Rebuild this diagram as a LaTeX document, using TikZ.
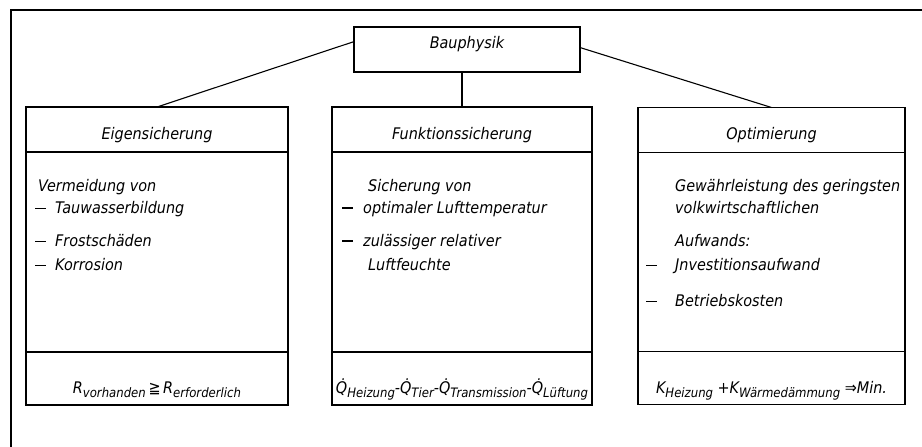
\documentclass[tikz,border=0pt]{standalone}
\usepackage{fontspec}
\setmainfont{DejaVu Sans Condensed}
\usetikzlibrary{positioning}
\newcommand\idx[1]{\raisebox{-4pt}{\fontsize{13}{13}\selectfont #1}}
\newcommand\strich[2][0.8pt]{\rule[4.5pt]{11pt}{#1}\hspace{#2}}
\tikzset{
  sect/.style={draw, line width=1.3pt, inner sep=0pt, outer sep=0pt},
  lbl/.style={anchor=base west, inner sep=0pt, font=\fontsize{16}{18}\selectfont\itshape},
  mid/.style={lbl, anchor=base},
  verb/.style={line width=1.1pt}
}
\begin{document}
\begin{tikzpicture}[x=1pt, y=-1pt]
		%%%%% START %%%%%
		\useasboundingbox (0,0) rectangle (922,447);
		\draw[line width=1.3pt] (11,447) -- (11,10) -- (922,10);
		
		\node[sect, minimum width=226pt, minimum height=45pt] (bau) at (467,49.5) {};
		\node[mid] (bautext) at (467,48) {Bauphysik};
		
		\node[sect, minimum width=262pt, minimum height=45pt] (eigenkopf) at (157,129.5) {};
		\node[sect, minimum width=262pt, minimum height=200pt, below=0pt of eigenkopf] (eigentext) {};
		\node[sect, minimum width=262pt, minimum height=53pt, below=0pt of eigentext] (eigenformel) {};
		
		\node[sect, minimum width=260pt, minimum height=45pt] (funkkopf) at (462,129.5) {};
		\node[sect, minimum width=260pt, minimum height=200pt, below=0pt of funkkopf] (funktext) {};
		\node[sect, minimum width=260pt, minimum height=53pt, below=0pt of funktext] (funkformel) {};
		
		\node[sect, minimum width=267pt, minimum height=45pt] (optkopf) at (771.5,130) {};
		\node[sect, minimum width=267pt, minimum height=199pt, below=0pt of optkopf] (opttext) {};
		\node[sect, minimum width=267pt, minimum height=53pt, below=0pt of opttext] (optformel) {};
		
		\draw[verb] (bau.176.7) -- (eigenkopf.north);
		\draw[verb] (funkkopf.north |- bau.south) -- (funkkopf.north);
		\draw[verb] (bau.1.3) -- (optkopf.north);
		
		\node[mid] (eigentitel) at (157,139) {Eigensicherung};
		\node[mid] (funktitel) at (462,139) {Funktionssicherung};
		\node[mid] (opttitel) at (771.5,139) {Optimierung};
		
		\node[lbl] (eigen1) at (38,191) {Vermeidung von};
		\node[lbl] (eigen2) at (35,213) {\strich{9pt}Tauwasserbildung};
		\node[lbl] (eigen3) at (35,246) {\strich{9pt}Frostschäden};
		\node[lbl] (eigen4) at (35,270) {\strich{9pt}Korrosion};
		
		\node[lbl] (funk1) at (368,191) {Sicherung von};
		\node[lbl] (funk2) at (342,213) {\strich[2pt]{10pt}optimaler Lufttemperatur};
		\node[lbl] (funk3) at (342,246) {\strich[2pt]{10pt}zulässiger relativer};
		\node[lbl] (funk4) at (368,270) {Luftfeuchte};
		
		\node[lbl] (opt1) at (675,191) {Gewährleistung des geringsten};
		\node[lbl] (opt2) at (675,213) {volkwirtschaftlichen};
		\node[lbl] (opt3) at (675,246) {Aufwands:};
		\node[lbl] (opt4) at (646,270) {\strich{18pt}Jnvestitionsaufwand};
		\node[lbl] (opt5) at (646,306) {\strich{18pt}Betriebskosten};
		
		\node[mid] (eigenglg) at (157,393) {R\idx{vorhanden}\,≧\,R\idx{erforderlich}};
		\node[mid] (funkglg) at (462,393) {Q̇\idx{Heizung}-Q̇\idx{Tier}-Q̇\idx{Transmission}-Q̇\idx{Lüftung}};
		\node[mid] (optglg) at (771.5,393) {K\idx{Heizung} +K\idx{Wärmedämmung} ⇒Min.};
		%%%%% END %%%%%
\end{tikzpicture}
\end{document}
